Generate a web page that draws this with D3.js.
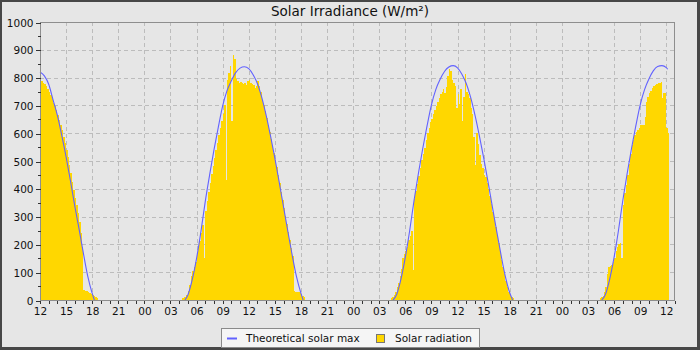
<!DOCTYPE html>
<html>
<head>
<meta charset="utf-8">
<script src="https://cdn.jsdelivr.net/npm/d3@7"></script>
<style>
  html, body { margin: 0; padding: 0; background: #ffffff; }
  svg { display: block; font-family: "DejaVu Sans", sans-serif; }
</style>
</head>
<body>
<svg id="chart" width="700" height="350"></svg>
<script>
// ---- Time window -------------------------------------------------------
const rangeStart = "2024-06-10 12:00";
const rangeEnd = "2024-06-13 13:00";
const dayDates = ["2024-06-10", "2024-06-11", "2024-06-12", "2024-06-13"];

// ---- Measured solar radiation (W/m²), 10-minute samples ---------------
const radStart = ["12:00", "04:20", "04:20", "04:20"];

const radDay1 = [790, 787, 782, 776, 768, 758, 748, 737, 724, 710, 697, 682, 666, 649, 630, 610,
  588, 565, 540, 513, 486, 458, 425, 395, 368, 342, 312, 280, 240, 190, 36, 34, 32, 29, 25, 21,
  18, 14, 10, 6];

const radDay2 = [8, 10, 12, 18, 32, 55, 88, 105, 118, 135, 168, 190, 212, 240, 268, 150,
  320, 355, 390, 420, 452, 482, 510, 540, 565, 595, 620, 645, 668, 700, 432, 790, 815, 840,
  645, 880, 868, 795, 788, 782, 785, 780, 778, 782, 775, 788, 790, 780, 778, 772, 762, 768,
  788, 770, 750, 718, 700, 680, 655, 630, 605, 580, 555, 530, 505, 478, 450, 420, 390, 360,
  330, 302, 272, 245, 215, 188, 160, 32, 30, 28, 27, 25, 20, 15, 10];

const radDay3 = [6, 10, 18, 30, 45, 62, 85, 110, 150, 165, 178, 190, 215, 232, 250, 108,
  365, 392, 418, 445, 475, 505, 525, 548, 575, 600, 620, 640, 652, 670, 685, 698, 712, 728,
  742, 748, 758, 745, 765, 805, 832, 825, 790, 780, 770, 690, 740, 705, 760, 645, 730, 812,
  750, 740, 725, 690, 670, 585, 485, 600, 560, 520, 490, 475, 450, 442, 420, 400, 375, 345,
  318, 290, 262, 232, 205, 175, 145, 118, 92, 70, 48, 30, 18, 10, 6];

const radDay4 = [6, 10, 14, 28, 45, 95, 118, 122, 125, 138, 150, 178, 192, 200, 205, 150,
  340, 385, 415, 450, 488, 525, 558, 575, 592, 605, 612, 620, 628, 630, 630, 660, 713, 730,
  743, 752, 761, 768, 773, 776, 779, 782, 785, 727, 745, 745, 620, 600];

// ---- Theoretical solar maximum (W/m²), [time, value] -------------------
const maxDay1 = [["12:00", 820], ["12:30", 806], ["13:00", 776], ["13:30", 720], ["14:00", 664],
  ["14:30", 592], ["15:00", 515], ["15:30", 429], ["16:00", 338], ["16:30", 254], ["17:00", 166],
  ["17:30", 84], ["18:00", 24], ["18:15", 0]];

const maxDay2 = [["04:40", 0], ["05:00", 18], ["05:30", 73], ["06:00", 150], ["06:30", 246],
  ["07:00", 355], ["07:30", 450], ["08:00", 540], ["08:30", 622], ["09:00", 698], ["09:30", 753],
  ["10:00", 789], ["10:30", 818], ["11:00", 834], ["11:30", 839], ["12:00", 832], ["12:30", 810],
  ["13:00", 778], ["13:30", 728], ["14:00", 664], ["14:30", 590], ["15:00", 510], ["15:30", 424],
  ["16:00", 334], ["16:30", 246], ["17:00", 160], ["17:30", 82], ["18:00", 24], ["18:15", 0]];

const maxDay3 = [["04:35", 0], ["05:00", 20], ["05:30", 76], ["06:00", 154], ["06:30", 250],
  ["07:00", 358], ["07:30", 455], ["08:00", 545], ["08:30", 627], ["09:00", 702], ["09:30", 757],
  ["10:00", 794], ["10:30", 822], ["11:00", 838], ["11:30", 843], ["12:00", 835], ["12:30", 812],
  ["13:00", 779], ["13:30", 730], ["14:00", 666], ["14:30", 592], ["15:00", 512], ["15:30", 426],
  ["16:00", 336], ["16:30", 248], ["17:00", 162], ["17:30", 84], ["18:00", 26], ["18:20", 0]];

const maxDay4 = [["04:35", 0], ["05:00", 20], ["05:30", 76], ["06:00", 154], ["06:30", 250],
  ["07:00", 358], ["07:30", 455], ["08:00", 545], ["08:30", 627], ["09:00", 702], ["09:30", 757],
  ["10:00", 795], ["10:30", 824], ["11:00", 840], ["11:30", 843], ["12:00", 836], ["12:10", 830]];

// ---- Axis ticks ---------------------------------------------------------
const yTicks = [0, 100, 200, 300, 400, 500, 600, 700, 800, 900, 1000];
const yMinorTicks = [50, 150, 250, 350, 450, 550, 650, 750, 850, 950];

// ---- Labels --------------------------------------------------------------
const chartTitle = "Solar Irradiance (W/m²)";
const seriesNames = ["Theoretical solar max", "Solar radiation"];

// ---- Styling -------------------------------------------------------------
const colors = { bar: "#ffd700", line: "#6262ff", bg: "#e6e6e6", frame: "#8e8e8e", grid: "#bcbcbc" };
const plot = { left: 40, right: 675, top: 22, bottom: 300 };

const parse = d3.timeParse("%Y-%m-%d %H:%M");
const svg = d3.select("#chart");

// Outer frame and background
svg.append("rect").attr("x", 0).attr("y", 0).attr("width", 700).attr("height", 350).attr("fill", "#474747");
svg.append("rect").attr("x", 2).attr("y", 2).attr("width", 695).attr("height", 345).attr("fill", colors.bg);

const x = d3.scaleTime().domain([parse(rangeStart), parse(rangeEnd)]).range([plot.left, plot.right]);
const y = d3.scaleLinear().domain([0, 1000]).range([plot.bottom, plot.top]);

const snap = v => Math.round(v) + 0.5;

// Grid
const grid = svg.append("g").attr("stroke", colors.grid).attr("stroke-dasharray", "4,3").attr("stroke-width", 1);
grid.selectAll("line.h").data(yTicks.filter(d => d > 0 && d < 1000)).join("line")
  .attr("x1", plot.left).attr("x2", plot.right)
  .attr("y1", d => snap(y(d))).attr("y2", d => snap(y(d)));
const gridTimes = x.ticks(d3.timeHour.every(3)).filter(t => x(t) > plot.left + 1 && x(t) < plot.right - 1);
grid.selectAll("line.v").data(gridTimes).join("line")
  .attr("y1", plot.top).attr("y2", plot.bottom)
  .attr("x1", d => snap(x(d))).attr("x2", d => snap(x(d)));

// Solar radiation bars
const radDays = [radDay1, radDay2, radDay3, radDay4];
const bars = [];
radDays.forEach((vals, di) => {
  const t0 = parse(dayDates[di] + " " + radStart[di]);
  vals.forEach((v, i) => {
    const t = d3.timeMinute.offset(t0, i * 10);
    bars.push({ t, t1: d3.timeMinute.offset(t, 10), v });
  });
});
svg.append("g").attr("shape-rendering", "crispEdges")
  .selectAll("rect").data(bars).join("rect")
  .attr("x", d => x(d.t))
  .attr("width", d => x(d.t1) - x(d.t))
  .attr("y", d => y(d.v))
  .attr("height", d => y(0) - y(d.v))
  .attr("fill", colors.bar);

// Theoretical maximum curves
const maxDays = [maxDay1, maxDay2, maxDay3, maxDay4];
const line = d3.line().x(d => x(d.t)).y(d => y(d.v)).curve(d3.curveMonotoneX);
maxDays.forEach((pts, di) => {
  const data = pts.map(([hm, v]) => ({ t: parse(dayDates[di] + " " + hm), v }));
  svg.append("path").datum(data)
    .attr("d", line)
    .attr("fill", "none")
    .attr("stroke", colors.line)
    .attr("stroke-width", 1.1);
});

// Plot frame
svg.append("rect")
  .attr("x", plot.left + 0.5).attr("y", plot.top + 0.5)
  .attr("width", plot.right - plot.left - 1).attr("height", plot.bottom - plot.top)
  .attr("fill", "none").attr("stroke", colors.frame);

// X axis: hourly ticks, labels every three hours
const xMinor = svg.append("g").attr("transform", `translate(0,${plot.bottom + 0.5})`)
  .call(d3.axisBottom(x).ticks(d3.timeHour.every(1)).tickSize(3).tickFormat(""));
const xMajor = svg.append("g").attr("transform", `translate(0,${plot.bottom + 0.5})`)
  .call(d3.axisBottom(x).ticks(d3.timeHour.every(3)).tickSize(3).tickPadding(4).tickFormat(d3.timeFormat("%H")));

// Y axis
const yMinor = svg.append("g").attr("transform", `translate(${plot.left + 0.5},0)`)
  .call(d3.axisLeft(y).tickValues(yMinorTicks).tickSize(3).tickFormat(""));
const yMajor = svg.append("g").attr("transform", `translate(${plot.left + 0.5},0)`)
  .call(d3.axisLeft(y).tickValues(yTicks).tickSize(5).tickPadding(2).tickFormat(d3.format("d")));

[xMinor, xMajor, yMinor, yMajor].forEach(g => {
  g.select(".domain").remove();
  g.attr("font-family", null).attr("font-size", null);
  g.selectAll(".tick line").attr("stroke", "#333").attr("shape-rendering", "crispEdges");
  g.selectAll(".tick text").attr("fill", "#111").style("font-size", "10.5px");
});
yMajor.selectAll(".tick line").each(function () {
  d3.select(this.parentNode).attr("transform", function () {
    const m = /translate\(([^,]+),([^)]+)\)/.exec(this.getAttribute("transform"));
    return `translate(${m[1]},${Math.round(+m[2]) + 0.5})`;
  });
});

// Title
svg.append("text")
  .attr("x", 350).attr("y", 15.5)
  .attr("text-anchor", "middle")
  .style("font-size", "13.5px")
  .attr("fill", "#111")
  .text(chartTitle);

// Legend
const legend = svg.append("g");
legend.append("rect")
  .attr("x", 221.5).attr("y", 328.5).attr("width", 258).attr("height", 19)
  .attr("fill", "#f5f5f5").attr("stroke", "#8a8a8a");
legend.append("line")
  .attr("x1", 227).attr("x2", 237).attr("y1", 338.5).attr("y2", 338.5)
  .attr("stroke", colors.line).attr("stroke-width", 2);
legend.append("text").attr("x", 246).attr("y", 342).style("font-size", "10.5px").attr("fill", "#111")
  .text(seriesNames[0]);
legend.append("rect")
  .attr("x", 376.5).attr("y", 334.5).attr("width", 8).attr("height", 8)
  .attr("fill", colors.bar).attr("stroke", "#777");
legend.append("text").attr("x", 395).attr("y", 342).style("font-size", "10.5px").attr("fill", "#111")
  .text(seriesNames[1]);
</script>
</body>
</html>
